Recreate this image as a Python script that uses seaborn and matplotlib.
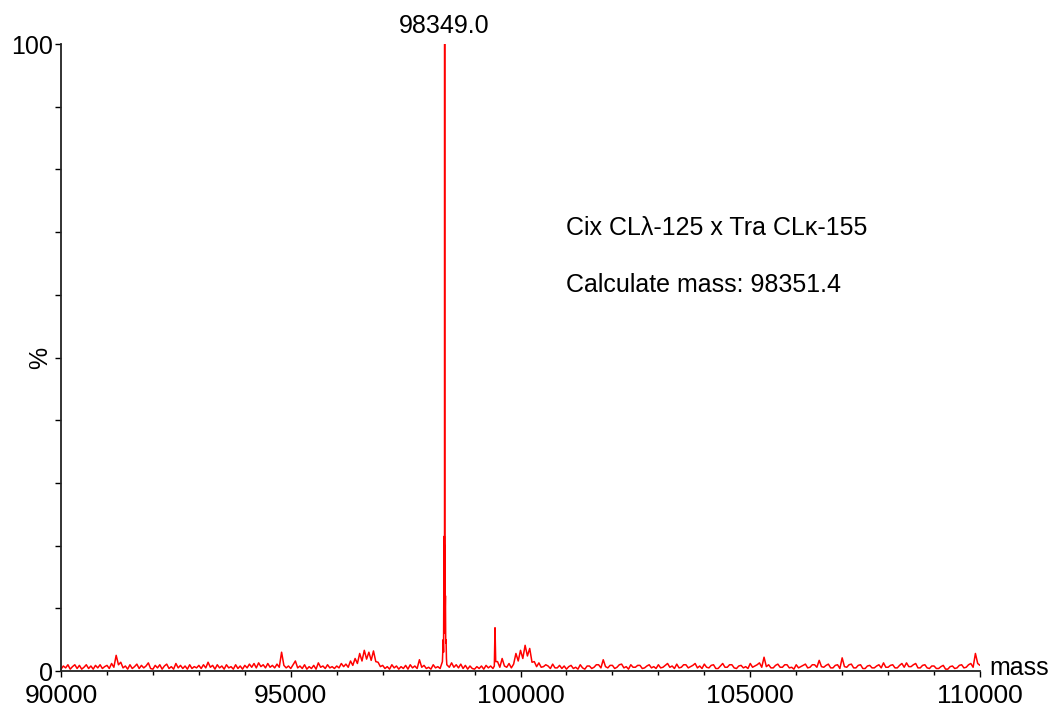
import numpy as np
import pandas as pd
import matplotlib
matplotlib.use("Agg")
import matplotlib.pyplot as plt
import seaborn as sns
from matplotlib.ticker import MultipleLocator

# Baseline noise, one row per 1000 Da (50 Da steps), in %
BASE_START = 90000
BASE_STEP = 50
baseline = [
    0.3, 0.8, 0.5, 1.0, 0.3, 0.7, 1.0, 0.4, 0.9, 0.3, 0.6, 1.0, 0.4, 0.8, 0.3, 0.9, 0.5, 1.0, 0.4, 0.7,  # 90000
    0.9, 0.4, 1.2, 0.6, 2.5, 1.0, 1.4, 0.5, 0.8, 0.3, 1.0, 0.4, 0.7, 1.1, 0.4, 0.9, 0.5, 0.8, 1.3, 0.4,  # 91000
    0.3, 0.9, 0.5, 1.0, 0.3, 0.8, 1.1, 0.4, 0.7, 0.3, 1.2, 0.5, 0.9, 0.4, 0.8, 0.3, 1.0, 0.4, 0.7, 0.5,  # 92000
    0.9, 0.4, 1.0, 0.5, 1.4, 0.6, 0.9, 0.3, 1.0, 0.5, 0.8, 0.3, 1.0, 0.5, 0.7, 0.3, 1.0, 0.4, 0.8, 0.3,  # 93000
    0.9, 0.5, 1.1, 0.6, 1.2, 0.5, 1.3, 0.7, 1.0, 0.5, 1.2, 0.6, 0.9, 0.5, 1.1, 0.6, 3.0, 0.9, 0.5, 0.8,  # 94000
    0.4, 1.0, 1.6, 0.5, 0.8, 0.4, 1.0, 0.3, 0.7, 0.4, 0.9, 0.3, 1.3, 0.6, 0.8, 0.4, 1.0, 0.5, 0.7, 0.4,  # 95000
    0.8, 0.5, 1.2, 0.7, 1.1, 0.6, 1.6, 0.9, 2.0, 1.2, 2.8, 1.6, 3.3, 1.9, 3.0, 1.7, 3.2, 1.5, 1.4, 0.7,  # 96000
    0.9, 0.4, 0.7, 0.3, 1.0, 0.5, 0.8, 0.3, 0.7, 0.4, 0.9, 0.3, 1.0, 0.5, 0.8, 0.4, 1.8, 0.6, 0.9, 0.4,  # 97000
    0.6, 0.3, 1.0, 0.5, 0.7, 0.4, 1.5, 0.7, 1.2, 0.6, 1.3, 0.6, 1.0, 0.5, 1.1, 0.4, 0.9, 0.3, 0.8, 0.4,  # 98000
    0.3, 0.7, 0.4, 0.8, 0.3, 0.9, 0.5, 0.8, 0.4, 0.7, 1.5, 0.6, 2.0, 0.8, 0.6, 1.2, 0.5, 1.1, 2.8, 1.6,  # 99000
    3.3, 2.0, 4.1, 2.4, 3.6, 1.4, 1.5, 0.7, 1.3, 0.6, 0.7, 1.0, 0.8, 0.4, 1.1, 0.5, 0.5, 0.9, 0.4, 0.8,  # 100000
    0.3, 0.7, 0.9, 0.4, 0.6, 0.3, 1.0, 0.5, 0.3, 0.8, 0.8, 0.4, 0.6, 1.0, 1.0, 0.5, 1.8, 0.7, 0.5, 0.9,  # 101000
    0.9, 0.4, 0.6, 1.0, 1.1, 0.5, 0.7, 0.3, 1.0, 0.6, 0.6, 0.9, 0.9, 0.4, 0.5, 0.8, 1.0, 0.5, 0.7, 0.4,  # 102000
    1.0, 0.5, 0.6, 0.9, 1.2, 0.6, 0.8, 0.4, 1.1, 0.5, 0.6, 1.0, 1.0, 0.5, 0.7, 0.9, 1.2, 0.5, 0.8, 0.4,  # 103000
    1.1, 0.6, 0.5, 0.9, 1.0, 0.4, 0.4, 0.8, 1.2, 0.6, 0.6, 1.0, 1.0, 0.5, 0.4, 0.8, 0.9, 0.5, 0.7, 0.4,  # 104000
    1.2, 0.6, 0.8, 1.0, 1.3, 0.6, 2.2, 0.7, 1.0, 0.5, 0.5, 0.9, 1.1, 0.6, 0.6, 1.0, 1.0, 0.5, 0.6, 0.3,  # 105000
    1.0, 0.5, 0.7, 0.9, 1.1, 0.5, 0.6, 1.0, 1.0, 0.6, 1.7, 0.7, 0.6, 0.9, 1.1, 0.5, 0.5, 0.9, 1.0, 0.4,  # 106000
    2.1, 0.7, 0.6, 1.0, 1.1, 0.5, 0.5, 0.9, 1.0, 0.4, 0.4, 0.8, 0.9, 0.5, 0.5, 0.8, 1.0, 0.5, 1.3, 0.6,  # 107000
    0.6, 0.9, 1.0, 0.5, 0.5, 0.9, 1.2, 0.6, 1.3, 0.7, 0.7, 1.0, 1.2, 0.5, 0.5, 0.9, 1.0, 0.5, 0.4, 0.8,  # 108000
    0.8, 0.4, 0.4, 0.7, 0.9, 0.3, 0.3, 0.7, 0.8, 0.4, 0.5, 0.9, 1.0, 0.5, 0.6, 1.0, 1.2, 0.6, 2.8, 1.2,  # 109000
    0.9,                                                                                                  # 110000
]

# Peaks (mass, %) - baseline points inside these windows are replaced
peak_windows = [(98290, 98400), (99420, 99470)]
peak_mass = [98300, 98310, 98318, 98325, 98330, 98336, 98341, 98346, 98349,
             98352, 98356, 98361, 98366, 98372, 98380, 98388, 98396,
             99430, 99445, 99460]
peak_int = [1.5, 3.5, 5.0, 3.0, 12.0, 6.0, 21.5, 12.0, 100.0,
            12.0, 20.0, 10.0, 12.0, 4.5, 5.0, 2.0, 1.0,
            0.8, 6.9, 1.5]

top_label = "98349.0"
top_mass = 98349
info_lines = ["Cix CL\u03bb-125 x Tra CL\u03ba-155", "Calculate mass: 98351.4"]

base_mass = [BASE_START + i * BASE_STEP for i in range(len(baseline))]
base = pd.DataFrame({"mass": base_mass, "pct": baseline})
for lo, hi in peak_windows:
    base = base[(base["mass"] < lo) | (base["mass"] > hi)]
peaks = pd.DataFrame({"mass": peak_mass, "pct": peak_int})
df = pd.concat([base, peaks]).sort_values("mass").reset_index(drop=True)

sns.set_style("ticks")
plt.rcParams["font.family"] = ["Liberation Sans", "DejaVu Sans"]
plt.rcParams["text.color"] = "black"
plt.rcParams["axes.labelcolor"] = "black"
plt.rcParams["xtick.color"] = "black"
plt.rcParams["ytick.color"] = "black"

fig = plt.figure(figsize=(10.54, 7.10), dpi=100)
ax = fig.add_axes([0.0579, 0.0549, 0.8719, 0.8831])

sns.lineplot(data=df, x="mass", y="pct", ax=ax, color="#ff0000",
             linewidth=1.1, sort=True, estimator=None)

ax.set_xlim(90000, 110000)
ax.set_ylim(0, 100)
ax.xaxis.set_major_locator(MultipleLocator(5000))
ax.xaxis.set_minor_locator(MultipleLocator(1000))
ax.set_yticks(range(0, 101, 10))
ax.set_yticklabels(["0"] + [""] * 9 + ["100"])
ax.tick_params(axis="y", which="major", labelsize=18, length=4,
               width=1, pad=1.5)
ax.tick_params(axis="x", which="major", labelsize=19, length=4,
               width=1, pad=5.5)
ax.tick_params(axis="x", which="minor", length=3, width=1)
sns.despine(ax=ax)
for s in ("left", "bottom"):
    ax.spines[s].set_linewidth(1.3)
    ax.spines[s].set_color("#222222")

ax.set_xlabel("")
ax.set_ylabel("%", fontsize=18)
ax.yaxis.set_label_coords(-0.01, 0.5)
ax.text(1.01, 0.005, "mass", transform=ax.transAxes, fontsize=18,
        ha="left", va="center")

ax.text(top_mass, 101.0, top_label, fontsize=18, ha="center", va="bottom",
        clip_on=False)
ax.text(101000, 70.7, info_lines[0], fontsize=18, ha="left", va="center")
ax.text(101000, 61.6, info_lines[1], fontsize=18, ha="left", va="center")

fig.savefig("out.png", dpi=100)
